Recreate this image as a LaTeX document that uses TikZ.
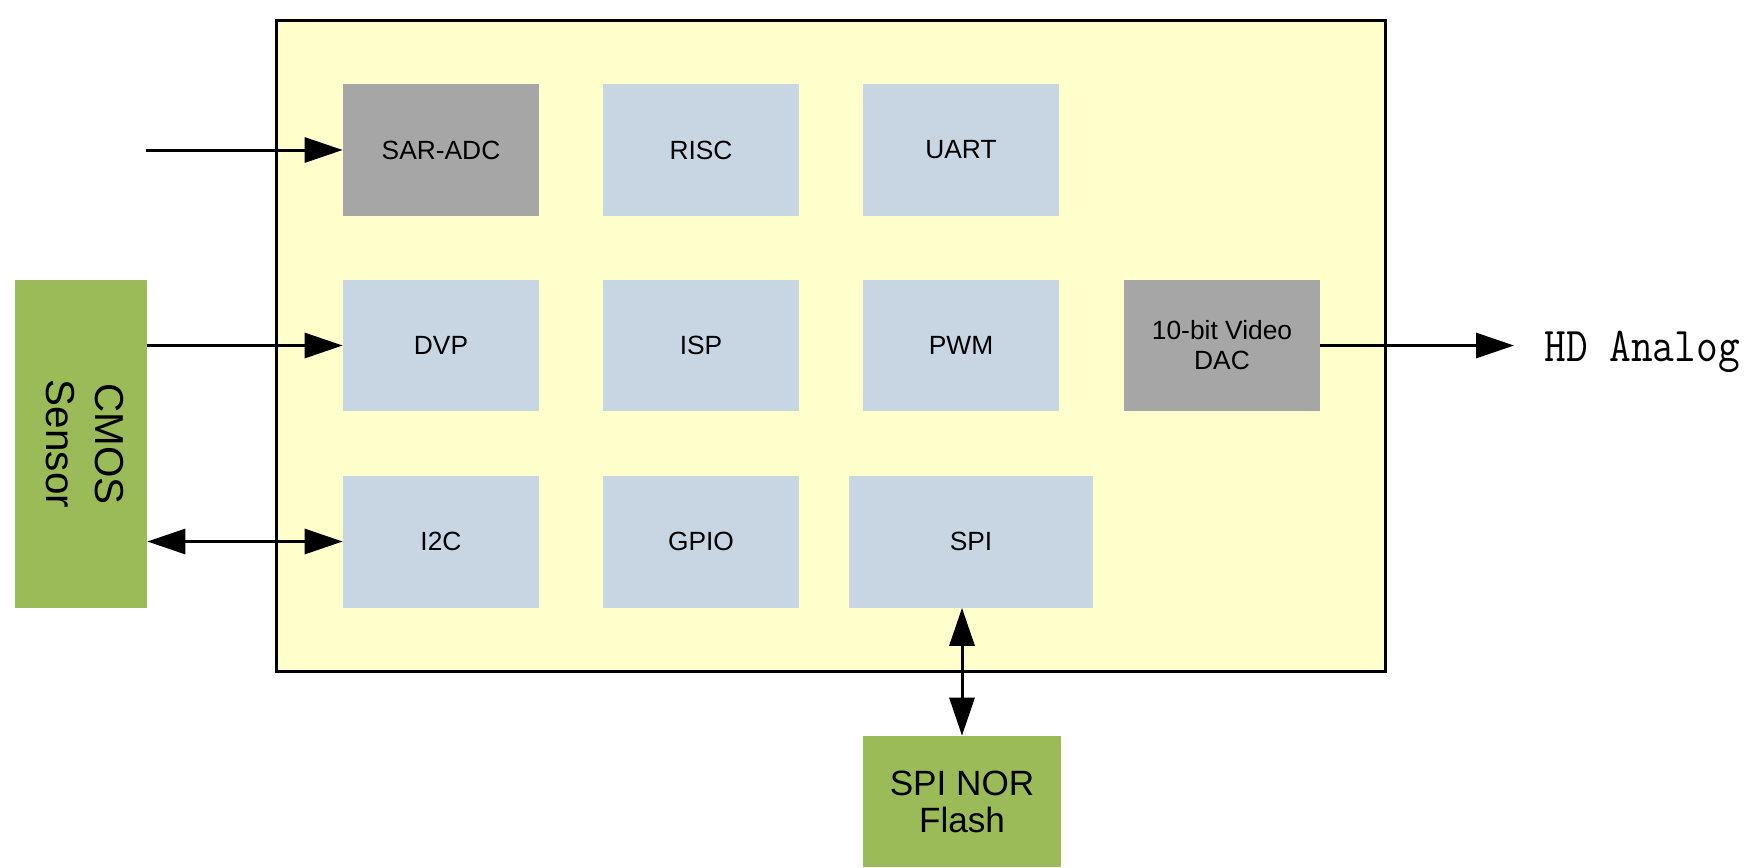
\documentclass[tikz,border=0pt]{standalone}
\usepackage{fontspec}
\setmainfont{Liberation Sans}
\usetikzlibrary{arrows.meta}
\definecolor{chipyellow}{RGB}{255,255,204}
\definecolor{blockblue}{RGB}{200,214,228}
\definecolor{blockgray}{RGB}{166,166,166}
\definecolor{extgreen}{RGB}{155,187,89}
\tikzset{
	block/.style={fill=blockblue, minimum width=3.92cm, minimum height=2.64cm, inner sep=0pt, align=center, font=\fontsize{15}{17}\selectfont},
	grayblock/.style={block, fill=blockgray},
	extblock/.style={block, fill=extgreen},
	sig/.style={line width=1.7pt, -{Triangle[length=7.6mm,width=5mm]}},
	bisig/.style={line width=1.7pt, {Triangle[length=7.6mm,width=5mm]}-{Triangle[length=7.6mm,width=5mm]}}
}
\begin{document}
\begin{tikzpicture}[x=0.02cm,y=-0.02cm]
	\useasboundingbox (0,0) rectangle (1752,867);
	\node[draw, line width=1.7pt, fill=chipyellow, minimum width=22.17cm, minimum height=13.03cm, inner sep=0pt] (chip) at (830.9,345.9) {};
	
	\node[grayblock] (sar) at (441,150) {SAR-ADC};
	\node[block] (risc) at (701,150) {RISC};
	\node[block] (uart) at (961,150) {UART};
	
	\node[block] (dvp) at (441,345.5) {DVP};
	\node[block] (isp) at (701,345.5) {ISP};
	\node[block] (pwm) at (961,345.5) {PWM};
	\node[grayblock] (dac) at (1222,345.5) {10-bit Video\\DAC};
	
	\node[block] (i2c) at (441,541.5) {I2C};
	\node[block] (gpio) at (701,541.5) {GPIO};
	\node[block, minimum width=4.88cm] (spi) at (971,541.5) {SPI};
	
	\node[extblock, minimum width=2.65cm, minimum height=6.56cm, font=\fontsize{23}{28}\selectfont] (cmos) at (80.75,444) {\rotatebox{-90}{\begin{tabular}{@{}c@{}}CMOS\\Sensor\end{tabular}}};
	\node[extblock, minimum width=3.98cm, minimum height=2.62cm, font=\fontsize{20}{21}\selectfont] (flash) at (962,801.5) {SPI NOR\\Flash};
	\node[anchor=base west, inner xsep=0.6cm, inner ysep=0pt, font=\ttfamily\fontsize{24}{24}\selectfont] (hd) at (1514,361) {\scalebox{1}[1.15]{HD Analog}};
	
	\coordinate (adcin) at (146,150);
	\draw[sig] (adcin) -- (sar.west);
	\draw[sig] (cmos.east |- dvp.west) -- (dvp.west);
	\draw[bisig] (cmos.east |- i2c.west) -- (i2c.west);
	\draw[sig] (dac.east) -- (dac.east -| hd.west);
	\draw[bisig] (flash.north |- spi.south) -- (flash.north);
\end{tikzpicture}
\end{document}
